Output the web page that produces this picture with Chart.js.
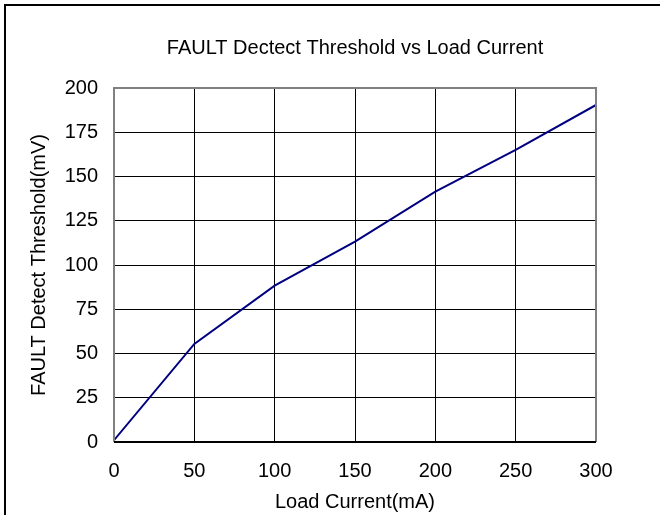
<!DOCTYPE html>
<html>
<head>
<meta charset="utf-8">
<script src="https://cdn.jsdelivr.net/npm/chart.js@4/dist/chart.umd.min.js"></script>
<style>
  html, body { margin: 0; padding: 0; background: #fff; }
  #wrap { width: 660px; height: 515px; }
</style>
</head>
<body>
<div id="wrap"><canvas id="c" width="660" height="515"></canvas></div>
<script>
const loadCurrent = [0, 50, 100, 150, 200, 250, 300];
const threshold = [1, 55.4, 88.3, 113.2, 141.4, 165, 190.4];
const xTicks = [0, 50, 100, 150, 200, 250, 300];
const yTicks = [0, 25, 50, 75, 100, 125, 150, 175, 200];

const FONT = "'Liberation Sans Narrow', 'Arial Narrow', 'Liberation Sans', Arial, sans-serif";

const framePlugin = {
  id: 'frame',
  beforeDraw(chart) {
    const ctx = chart.ctx;
    ctx.save();
    ctx.fillStyle = '#ffffff';
    ctx.fillRect(0, 0, chart.width, chart.height);
    ctx.strokeStyle = '#000000';
    ctx.lineWidth = 2;
    ctx.beginPath();
    ctx.moveTo(5, chart.height + 5);
    ctx.lineTo(5, 5);
    ctx.lineTo(chart.width + 5, 5);
    ctx.stroke();
    ctx.restore();
  },
  afterDatasetsDraw(chart) {
    const a = chart.chartArea;
    const ctx = chart.ctx;
    ctx.save();
    ctx.strokeStyle = '#808080';
    ctx.lineWidth = 2;
    ctx.beginPath();
    ctx.moveTo(a.left, a.bottom);
    ctx.lineTo(a.left, a.top);
    ctx.lineTo(a.right, a.top);
    ctx.lineTo(a.right, a.bottom);
    ctx.stroke();
    ctx.strokeStyle = '#000000';
    ctx.beginPath();
    ctx.moveTo(a.left, a.bottom);
    ctx.lineTo(a.right, a.bottom);
    ctx.stroke();
    ctx.restore();
  }
};

new Chart(document.getElementById('c'), {
  type: 'line',
  data: {
    datasets: [{
      data: loadCurrent.map((x, i) => ({ x: x, y: threshold[i] })),
      borderColor: '#000080',
      borderWidth: 2,
      pointRadius: 0,
      tension: 0,
      fill: false
    }]
  },
  options: {
    responsive: false,
    animation: false,
    layout: { padding: { left: 0, right: 64, top: 0, bottom: 0 } },
    plugins: {
      legend: { display: false },
      tooltip: { enabled: false },
      title: {
        display: true,
        text: 'FAULT Dectect Threshold vs Load Current',
        fullSize: false,
        color: '#000',
        font: { family: FONT, size: 20, weight: 'normal', lineHeight: 1.2 },
        padding: { top: 36, bottom: 28 }
      }
    },
    scales: {
      x: {
        type: 'linear',
        min: 0, max: 300,
        afterBuildTicks(s) { s.ticks = xTicks.map(v => ({ value: v })); },
        afterFit(s) { s.height = 73; },
        grid: { color: '#000000', lineWidth: 1, drawTicks: false },
        border: { display: false },
        ticks: { color: '#000', padding: 17, font: { family: FONT, size: 20 } },
        title: {
          display: true, text: 'Load Current(mA)', color: '#000',
          font: { family: FONT, size: 20, lineHeight: 1.2 },
          padding: { top: 0, bottom: 1 }
        }
      },
      y: {
        type: 'linear',
        min: 0, max: 200,
        afterBuildTicks(s) { s.ticks = yTicks.map(v => ({ value: v })); },
        afterFit(s) { s.width = 114; },
        grid: { color: '#000000', lineWidth: 1, drawTicks: false },
        border: { display: false },
        ticks: { color: '#000', padding: 16, font: { family: FONT, size: 20 } },
        title: {
          display: true, text: 'FAULT Detect Threshold(mV)', color: '#000',
          font: { family: FONT, size: 20, lineHeight: 1.2 },
          padding: { top: 27, bottom: 0 }
        }
      }
    }
  },
  plugins: [framePlugin]
});
</script>
</body>
</html>
